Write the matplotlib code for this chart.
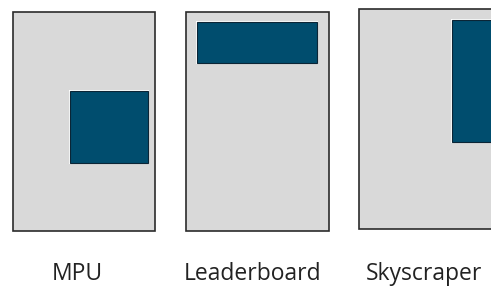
import matplotlib
matplotlib.use('Agg')
import matplotlib.pyplot as plt
from matplotlib.patches import Rectangle

# ── Data (pixel coords of the 491x286 canvas) ───────────────────────────────
LABELS     = ['MPU', 'Leaderboard', 'Skyscraper']
LABEL_X    = [77, 253, 424]
LABEL_Y    = 280   # baseline
# outer page: (x0, y0, x1, y1)
PAGE_BOX   = [(12.7, 11.7, 155.3, 231.0),
              (185.7, 11.7, 328.7, 230.7),
              (359.0, 9.3, 500.0, 228.7)]
# ad unit inside the page
AD_BOX     = [(70.0, 91.0, 147.7, 162.7),
              (196.7, 22.3, 317.3, 62.7),
              (452.3, 20.0, 500.0, 141.7)]

GREY   = '#D9D9D9'
BLUE   = '#004D6E'
BORDER = '#2B2B2B'

fig = plt.figure(figsize=(4.91, 2.86), dpi=100)
ax = fig.add_axes([0, 0, 1, 1])
ax.set_xlim(0, 491)
ax.set_ylim(286, 0)
ax.axis('off')

for (x0, y0, x1, y1) in PAGE_BOX:
    ax.add_patch(Rectangle((x0, y0), x1 - x0, y1 - y0,
                           facecolor=GREY, edgecolor=BORDER, lw=1.2))

for (x0, y0, x1, y1) in AD_BOX:
    # thin white halo then dark edge
    ax.add_patch(Rectangle((x0 - 1, y0 - 1), x1 - x0 + 2, y1 - y0 + 2,
                           facecolor='white', edgecolor='none'))
    ax.add_patch(Rectangle((x0, y0), x1 - x0, y1 - y0,
                           facecolor=BLUE, edgecolor='#0B2536', lw=0.8))

for lab, x in zip(LABELS, LABEL_X):
    ax.text(x, LABEL_Y, lab, ha='center', va='baseline', fontsize=16.5,
            family='Open Sans', color='#222222')

fig.savefig('out.png', dpi=100)
